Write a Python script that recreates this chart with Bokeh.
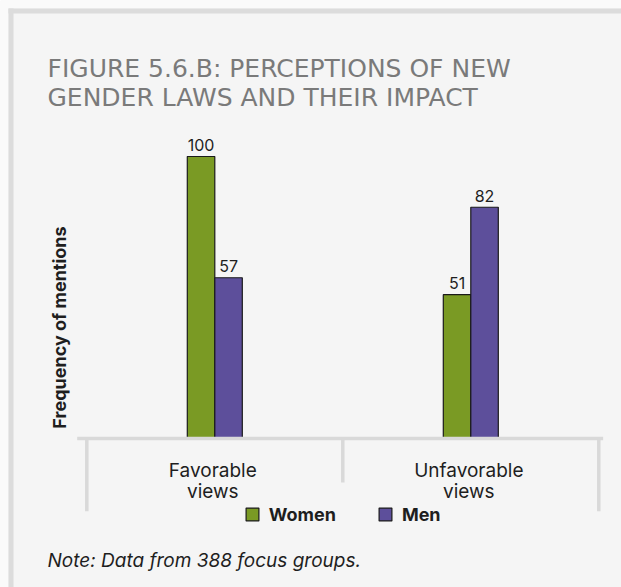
import math
from bokeh.plotting import figure
from bokeh.models import Range1d, Label, Legend, LegendItem, ColumnDataSource, BoxAnnotation
from bokeh.core.properties import value
from bokeh.embed import file_html
from bokeh.resources import INLINE

# ---------------- data ----------------
categories = ["Favorable\nviews", "Unfavorable\nviews"]
women = [100, 51]
men = [57, 82]
series_names = ["Women", "Men"]
title_lines = ["FIGURE 5.6.B: PERCEPTIONS OF NEW", "GENDER LAWS AND THEIR IMPACT"]
y_label = "Frequency of mentions"
note_text = "Note: Data from 388 focus groups."

# ---------------- style / layout ----------------
GREEN = "#7a9a24"
PURPLE = "#5d4f9b"
BG = "#f5f5f5"
PAGE = "#fafafa"
FRAME_GRAY = "#dcdcdc"
AXIS_GRAY = "#d9d9d9"
INK = "#1e1e1e"
TITLE_GRAY = "#7a7a7a"
FONT = "Inter"

W, H = 621, 587
MARGIN, BAND = 8, 5
PX_PER_CAT = 256.0                      # pixels per category slot
PX_PER_UNIT = 2.82                      # pixels per value unit
CAT0_PX = 214.3                         # first category centre, px from left
BASE_PX = 438.0                         # value 0, px from top
BAR_W = 27.5 / PX_PER_CAT


def sy(page_y):
    """screen y (measured up from the bottom) for a y position measured from the top"""
    return H - page_y


x0 = -CAT0_PX / PX_PER_CAT
x1 = x0 + W / PX_PER_CAT
y1 = BASE_PX / PX_PER_UNIT
y0 = y1 - H / PX_PER_UNIT

p = figure(width=W, height=H, output_backend="svg", toolbar_location=None,
           x_range=Range1d(x0, x1), y_range=Range1d(y0, y1),
           x_axis_type=None, y_axis_type=None,
           min_border_left=0, min_border_top=0,
           min_border_right=0, min_border_bottom=0,
           border_fill_color=BG, background_fill_color=BG,
           outline_line_color=None)

# page margin and grey frame band (top and left)
box = dict(left_units="screen", right_units="screen", top_units="screen",
           bottom_units="screen", fill_alpha=1, line_color=None)
p.add_layout(BoxAnnotation(left=0, right=W, bottom=sy(MARGIN), top=H, fill_color=PAGE, **box))
p.add_layout(BoxAnnotation(left=0, right=MARGIN, bottom=0, top=H, fill_color=PAGE, **box))
p.add_layout(BoxAnnotation(left=MARGIN, right=W, bottom=sy(MARGIN + BAND), top=sy(MARGIN),
                           fill_color=FRAME_GRAY, **box))
p.add_layout(BoxAnnotation(left=MARGIN, right=MARGIN + BAND, bottom=0, top=sy(MARGIN),
                           fill_color=FRAME_GRAY, **box))

idx = list(range(len(categories)))
src = ColumnDataSource(dict(
    xw=[i - BAR_W / 2 for i in idx],
    xm=[i + BAR_W / 2 for i in idx],
    women=women, men=men,
    wl=[str(v) for v in women], ml=[str(v) for v in men],
))

r_w = p.vbar(x="xw", top="women", bottom=0, width=BAR_W, source=src,
             fill_color=GREEN, line_color="#1a1a1a", line_width=1.2)
r_m = p.vbar(x="xm", top="men", bottom=0, width=BAR_W, source=src,
             fill_color=PURPLE, line_color="#1a1a1a", line_width=1.2)

lbl_kw = dict(text_align="center", text_baseline="alphabetic",
              text_font=value(FONT), text_font_size="16px", text_color=INK,
              y_offset=-11.5, source=src)
p.text(x="xw", y="women", text="wl", **lbl_kw)
p.text(x="xm", y="men", text="ml", **lbl_kw)

# category axis: baseline and separators
n = len(categories)
p.segment(x0=[-0.5 - 0.0375], x1=[n - 0.5 + 0.017], y0=[0], y1=[0],
          line_color=AXIS_GRAY, line_width=3.5)
bounds = [i - 0.5 for i in range(n + 1)]
sep_len = [25.8 if b in (bounds[0], bounds[-1]) else 15.6 for b in bounds]
p.segment(x0=bounds, x1=bounds, y0=[0] * len(bounds), y1=[-s for s in sep_len],
          line_color=AXIS_GRAY, line_width=3.5)

# category labels (two lines)
cat_lines = [c.split("\n") for c in categories]
for k in range(max(len(c) for c in cat_lines)):
    p.text(x=idx, y=[0] * n, text=[c[k] if k < len(c) else "" for c in cat_lines],
           x_offset=-2, y_offset=32 + 21 * k,
           text_align="center", text_baseline="alphabetic",
           text_font=value(FONT), text_font_size="19px", text_color=INK)

# title
for k, line in enumerate(title_lines):
    p.add_layout(Label(x=47, y=sy(68 + 28.7 * k), x_units="screen", y_units="screen",
                       text=line, text_font="DejaVu Sans",
                       text_font_size="25px", text_color=TITLE_GRAY,
                       text_baseline="alphabetic", text_align="left"))

# y axis label
p.add_layout(Label(x=59, y=sy(327), x_units="screen", y_units="screen",
                   text=y_label, angle=math.pi / 2,
                   text_font=FONT, text_font_style="bold", text_font_size="18px",
                   text_color=INK, text_align="center", text_baseline="alphabetic"))

# note
p.add_layout(Label(x=47, y=sy(560), x_units="screen", y_units="screen",
                   text=note_text, text_font=FONT, text_font_style="italic",
                   text_font_size="19px", text_color=INK,
                   text_align="left", text_baseline="alphabetic"))

# legend
legend = Legend(items=[LegendItem(label=series_names[0], renderers=[r_w]),
                       LegendItem(label=series_names[1], renderers=[r_m])],
                location=(243.7, sy(524.7)), orientation="horizontal",
                glyph_width=16, glyph_height=16, label_standoff=9, spacing=41,
                padding=0, margin=0, label_height=16,
                border_line_color=None, background_fill_alpha=0,
                label_text_font=FONT, label_text_font_style="bold",
                label_text_font_size="18px", label_text_color=INK)
p.add_layout(legend)

open("out.html", "w").write(file_html(p, INLINE))
